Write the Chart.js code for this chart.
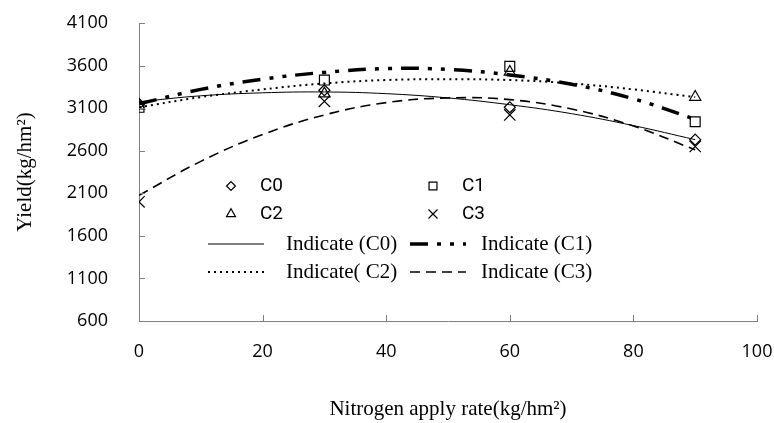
<!DOCTYPE html>
<html>
<head>
<meta charset="utf-8">
<script src="https://cdn.jsdelivr.net/npm/chart.js@4.4.0/dist/chart.umd.min.js"></script>
<style>
  html, body { margin: 0; padding: 0; background: #fff; }
  #wrap { width: 774px; height: 423px; }
</style>
</head>
<body>
<div id="wrap"><canvas id="yieldChart"></canvas></div>
<script>
// measured yields at each nitrogen rate
const nRates = [0, 30, 60, 90];
const yieldC0 = [3150, 3310, 3110, 2730];
const yieldC1 = [3110, 3430, 3590, 2940];
const yieldC2 = [3130, 3270, 3525, 3230];
const yieldC3 = [2000, 3180, 3020, 2650];

// fitted curves, every 10 units
const fitRates = [0, 10, 20, 30, 40, 50, 60, 70, 80, 90];
const fitC0 = [3175, 3245, 3280, 3290, 3270, 3220, 3140, 3035, 2895, 2730];
const fitC1 = [3150, 3320, 3440, 3520, 3565, 3555, 3490, 3380, 3210, 2970];
const fitC2 = [3110, 3230, 3320, 3390, 3430, 3440, 3430, 3390, 3320, 3230];
const fitC3 = [2075, 2475, 2790, 3020, 3165, 3220, 3200, 3090, 2890, 2610];

const xTicks = [0, 20, 40, 60, 80, 100];
const yTicks = [600, 1100, 1600, 2100, 2600, 3100, 3600, 4100];

const pts = (xs, ys) => xs.map((x, i) => ({ x: x, y: ys[i] }));

function markerSet(label, ys, style, r) {
    return {
        label: label,
        data: pts(nRates, ys),
        showLine: false,
        pointStyle: style,
        pointRadius: r,
        pointBorderWidth: 1.2,
        borderColor: '#000',
        backgroundColor: 'rgba(0,0,0,0)',
        order: 0
    };
}

function curveSet(label, ys, width, dash) {
    return {
        label: label,
        data: pts(fitRates, ys),
        showLine: true,
        pointRadius: 0,
        borderColor: '#000',
        borderWidth: width,
        borderDash: dash,
        tension: 0.4,
        order: 1
    };
}

// legend drawn inside the plot, two columns, four rows
const boxLegend = {
    id: 'boxLegend',
    afterDraw(chart) {
        const ctx = chart.ctx;
        const sets = chart.data.datasets;
        const cols = [{ mark: 231, text: 260, l0: 208, l1: 264, lt: 286 },
                      { mark: 433, text: 462, l0: 410, l1: 466, lt: 481 }];
        const rows = [186, 214, 244, 272];
        ctx.save();
        ctx.textBaseline = 'middle';
        ctx.fillStyle = '#000';
        sets.forEach((ds, i) => {
            const c = cols[i % 2];
            const yy = rows[Math.floor(i / 2)];
            if (!ds.showLine) {
                ctx.strokeStyle = '#000';
                ctx.fillStyle = 'rgba(0,0,0,0)';
                ctx.lineWidth = 1.2;
                Chart.helpers.drawPoint(ctx, { pointStyle: ds.pointStyle, radius: ds.pointRadius * 0.8, borderWidth: 1.2, rotation: 0 }, c.mark, yy);
                ctx.fillStyle = '#000';
                ctx.font = '19px "Liberation Sans Narrow", "Roboto", "DejaVu Sans", sans-serif';
                ctx.fillText(ds.label, c.text, yy);
            } else {
                ctx.strokeStyle = '#000';
                ctx.lineWidth = ds.borderWidth;
                ctx.setLineDash(ds.borderDash || []);
                ctx.beginPath();
                ctx.moveTo(c.l0, yy);
                ctx.lineTo(c.l1, yy);
                ctx.stroke();
                ctx.setLineDash([]);
                ctx.fillStyle = '#000';
                ctx.font = '21px "Liberation Serif", "DejaVu Serif", serif';
                ctx.fillText(ds.label, c.lt, yy);
            }
        });
        ctx.restore();
    }
};

// short tick marks pointing into the plot
const inwardTicks = {
    id: 'inwardTicks',
    afterDraw(chart) {
        const { ctx, chartArea: a, scales: { x, y } } = chart;
        ctx.save();
        ctx.strokeStyle = '#808080';
        ctx.lineWidth = 1;
        ctx.beginPath();
        x.ticks.forEach(t => {
            if (t.value === 0) return;
            const px = Math.round(x.getPixelForValue(t.value)) + 0.5;
            ctx.moveTo(px, a.bottom);
            ctx.lineTo(px, a.bottom - 6);
        });
        y.ticks.forEach(t => {
            if (t.value === 600) return;
            const py = Math.round(y.getPixelForValue(t.value)) + 0.5;
            ctx.moveTo(a.left, py);
            ctx.lineTo(a.left + 6, py);
        });
        ctx.stroke();
        ctx.restore();
    }
};

const noOverhang = s => {
    s.paddingTop = 0;
    s.paddingRight = 0;
    s.paddingLeft = 0;
    s.paddingBottom = 0;
};

const ctx = document.getElementById('yieldChart');

new Chart(ctx, {
    type: 'scatter',
    data: {
        datasets: [
            markerSet('C0', yieldC0, 'rectRot', 5.5),
            markerSet('C1', yieldC1, 'rect', 7),
            markerSet('C2', yieldC2, 'triangle', 6.5),
            markerSet('C3', yieldC3, 'crossRot', 8),
            curveSet('Indicate (C0)', fitC0, 1, []),
            curveSet('Indicate (C1)', fitC1, 3.5, [18, 9, 4, 9, 4, 9]),
            curveSet('Indicate( C2)', fitC2, 2, [2, 4]),
            curveSet('Indicate (C3)', fitC3, 1.6, [10, 6])
        ]
    },
    options: {
        responsive: true,
        maintainAspectRatio: false,
        animation: false,
        layout: { padding: { top: 23, right: 17, left: 0, bottom: 0 } },
        plugins: {
            legend: { display: false },
            tooltip: { enabled: false }
        },
        scales: {
            x: {
                type: 'linear',
                min: 0,
                max: 100,
                afterBuildTicks: s => { s.ticks = xTicks.map(v => ({ value: v })); },
                afterFit: s => { s.height = 102; noOverhang(s); },
                grid: { display: false, drawTicks: false },
                border: { color: '#808080', width: 1 },
                ticks: { color: '#000', padding: 20, font: { family: 'Open Sans', size: 18 }, callback: v => String(v) },
                title: {
                    display: true,
                    text: 'Nitrogen apply rate(kg/hm²)',
                    color: '#000',
                    font: { family: 'Liberation Serif', size: 21 },
                    padding: { top: 0, bottom: 1 }
                }
            },
            y: {
                type: 'linear',
                min: 600,
                max: 4100,
                afterBuildTicks: s => { s.ticks = yTicks.map(v => ({ value: v })); },
                afterFit: s => { s.width = 139; noOverhang(s); },
                grid: { display: false, drawTicks: false },
                border: { color: '#808080', width: 1 },
                ticks: { color: '#000', padding: 31, font: { family: 'Open Sans', size: 18 }, callback: v => String(v) },
                title: {
                    display: true,
                    text: 'Yield(kg/hm²)',
                    color: '#000',
                    font: { family: 'Liberation Serif', size: 21 },
                    padding: { top: 13, bottom: 0 }
                }
            }
        }
    },
    plugins: [boxLegend, inwardTicks]
});
</script>
</body>
</html>
